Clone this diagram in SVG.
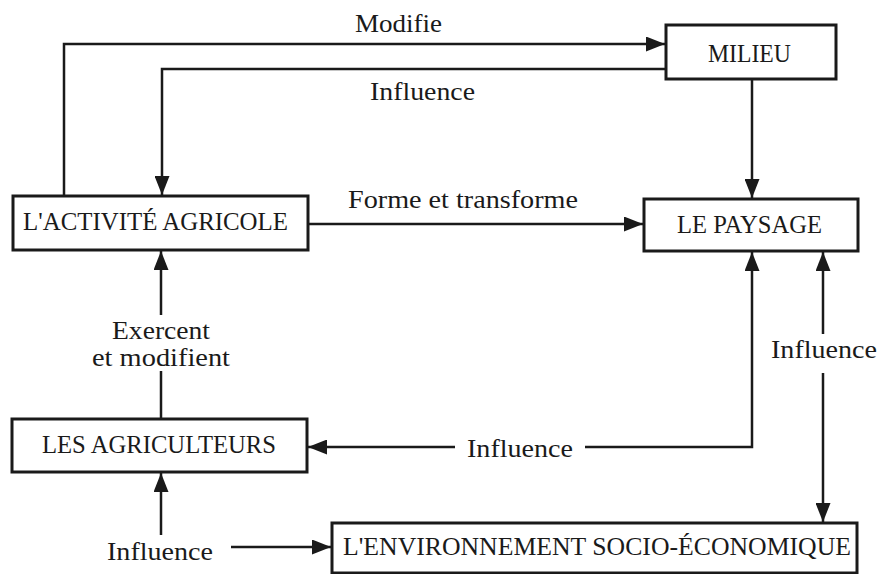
<svg xmlns="http://www.w3.org/2000/svg" width="881" height="574" viewBox="0 0 881 574">
<style>
.box{fill:#fff;stroke:#1a1a1a;stroke-width:3}
.ln{fill:none;stroke:#1a1a1a;stroke-width:2.5}
text{font-family:"Liberation Serif","Times New Roman",serif;font-size:26px;fill:#1a1a1a}
</style>
<defs>
<marker id="ah" markerUnits="userSpaceOnUse" markerWidth="19" markerHeight="15" refX="19" refY="7.5" orient="auto-start-reverse" viewBox="0 0 19 15">
<path d="M0,0 L19,7.5 L0,15 z" fill="#1a1a1a"/>
</marker>
</defs>
<rect width="881" height="574" fill="#fff"/>
<g id="connectors">
<path class="ln" d="M64,196 V44 H665" marker-end="url(#ah)"/>
<path class="ln" d="M666,69 H162 V195" marker-end="url(#ah)"/>
<path class="ln" d="M752,79 V198" marker-end="url(#ah)"/>
<path class="ln" d="M308,224 H643" marker-end="url(#ah)"/>
<path class="ln" d="M585,447 H752 V252" marker-end="url(#ah)"/>
<path class="ln" d="M455,447 H308" marker-end="url(#ah)"/>
<path class="ln" d="M823,334 V252" marker-end="url(#ah)"/>
<path class="ln" d="M823,373 V522" marker-end="url(#ah)"/>
<path class="ln" d="M161,315 V251" marker-end="url(#ah)"/>
<path class="ln" d="M161,371 V419"/>
<path class="ln" d="M161,535 V473" marker-end="url(#ah)"/>
<path class="ln" d="M231,547 H331" marker-end="url(#ah)"/>
<text x="355" y="32" textLength="87" lengthAdjust="spacingAndGlyphs">Modifie</text>
<text x="370" y="100" textLength="105" lengthAdjust="spacingAndGlyphs">Influence</text>
<text x="348" y="208" textLength="230" lengthAdjust="spacingAndGlyphs">Forme et transforme</text>
<text x="771" y="358" textLength="106" lengthAdjust="spacingAndGlyphs">Influence</text>
<text x="467" y="457" textLength="106" lengthAdjust="spacingAndGlyphs">Influence</text>
<text x="112" y="339" textLength="98" lengthAdjust="spacingAndGlyphs">Exercent</text>
<text x="92" y="366" textLength="138" lengthAdjust="spacingAndGlyphs">et modifient</text>
<text x="107" y="560" textLength="106" lengthAdjust="spacingAndGlyphs">Influence</text>
</g>
<g id="milieu">
<rect class="box" x="666" y="25" width="170" height="54"/>
<text x="708" y="62" textLength="83" lengthAdjust="spacingAndGlyphs">MILIEU</text>
</g>
<g id="activite">
<rect class="box" x="13" y="196" width="295" height="54"/>
<text x="23" y="230" textLength="265" lengthAdjust="spacingAndGlyphs">L'ACTIVITÉ AGRICOLE</text>
</g>
<g id="paysage">
<rect class="box" x="644" y="199" width="214" height="52"/>
<text x="677" y="233" textLength="145" lengthAdjust="spacingAndGlyphs">LE PAYSAGE</text>
</g>
<g id="agriculteurs">
<rect class="box" x="12" y="419" width="295" height="53"/>
<text x="42" y="453" textLength="234" lengthAdjust="spacingAndGlyphs">LES AGRICULTEURS</text>
</g>
<g id="environnement">
<rect class="box" x="332" y="523" width="525" height="50"/>
<text x="343" y="555" textLength="508" lengthAdjust="spacingAndGlyphs">L'ENVIRONNEMENT SOCIO-ÉCONOMIQUE</text>
</g>
</svg>
